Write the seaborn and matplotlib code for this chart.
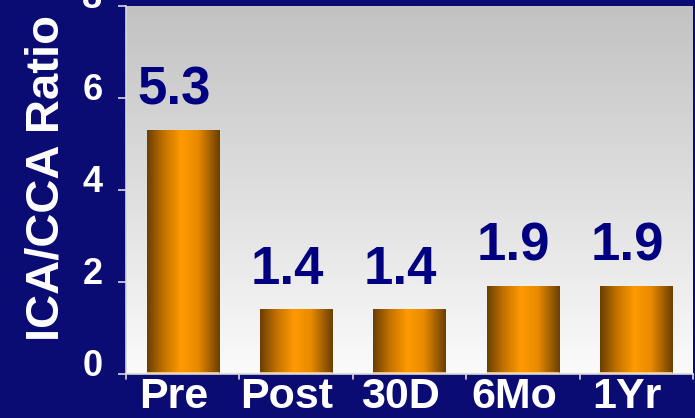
import numpy as np
import pandas as pd
import matplotlib
matplotlib.use("Agg")
import matplotlib.pyplot as plt
import matplotlib.transforms as mtransforms
from matplotlib.colors import LinearSegmentedColormap
import seaborn as sns

categories = ["Pre", "Post", "30D", "6Mo", "1Yr"]
ratios = [5.3, 1.4, 1.4, 1.9, 1.9]
value_labels = ["5.3", "1.4", "1.4", "1.9", "1.9"]
y_ticks = [0, 2, 4, 6, 8]

NAVY_BG = "#0b0b74"
NAVY_TXT = "#000080"

sns.set_theme(style="white")
plt.rcParams["font.family"] = ["Liberation Sans", "DejaVu Sans"]
plt.rcParams["font.weight"] = "bold"

df = pd.DataFrame({"period": categories, "ratio": ratios})

fig = plt.figure(figsize=(6.95, 4.18), dpi=100, facecolor=NAVY_BG)
ax = fig.add_axes([126 / 695, (418 - 374) / 418, (693 - 126) / 695, (374 - 6) / 418])

sns.barplot(data=df, x="period", y="ratio", ax=ax, width=0.635,
            color="#ff9900", edgecolor="none", errorbar=None)

ax.set_xlim(-0.5, 4.5)
ax.set_ylim(0, 8)

# gray-to-white vertical wash behind the bars
bg = np.linspace(0, 1, 256).reshape(-1, 1)
bg_cmap = LinearSegmentedColormap.from_list("wash", ["#fbfbfb", "#c2c2c2"])
ax.imshow(bg, cmap=bg_cmap, extent=[0, 1, 0, 1], transform=ax.transAxes,
          aspect="auto", origin="lower", zorder=0)

# cylindrical shading across each bar
bar_cmap = LinearSegmentedColormap.from_list(
    "cyl", [(0.0, "#6a3f00"), (0.22, "#c07000"), (0.47, "#ff9a00"),
            (0.7, "#e88a00"), (1.0, "#6a3f00")])
shade = np.linspace(0, 1, 256).reshape(1, -1)
for patch, label in zip(ax.patches, value_labels):
    x0 = patch.get_x()
    w = patch.get_width()
    h = patch.get_height()
    patch.set_visible(False)
    ax.imshow(shade, cmap=bar_cmap, extent=[x0, x0 + w, 0, h],
              aspect="auto", origin="lower", zorder=2)
    ax.plot([x0, x0 + w], [0.02, 0.02], color="#f5d9a8", lw=1.2, zorder=3)
    ax.text(x0 + w / 2 - 0.08, h + 0.56, label, ha="center", va="baseline",
            color=NAVY_TXT, fontsize=38, fontweight="bold", zorder=4)

ax.set_xlim(-0.5, 4.5)
ax.set_ylim(0, 8)
ax.set_yticks(y_ticks)
ax.set_yticklabels([str(t) for t in y_ticks])
ax.set_xticks(range(len(categories)))
ax.set_xticklabels(categories)
ax.tick_params(axis="x", length=0, pad=2, labelsize=31, labelcolor="white")
ax.tick_params(axis="y", length=6, width=1.2, color="#d8d8d8", pad=11,
               labelsize=26, labelcolor="white", left=True, direction="out")

# category names sit a little left of the bar centres,
# axis numbers a little above their ticks
x_shift = mtransforms.ScaledTranslation(-9 / 100, 0, fig.dpi_scale_trans)
y_shift = mtransforms.ScaledTranslation(0, 11 / 100, fig.dpi_scale_trans)
for lbl in ax.get_xticklabels():
    lbl.set_fontweight("bold")
    lbl.set_transform(lbl.get_transform() + x_shift)
for lbl in ax.get_yticklabels():
    lbl.set_fontweight("bold")
    lbl.set_transform(lbl.get_transform() + y_shift)

# small separators between categories on the baseline
for b in np.arange(-0.5, 5.0, 1.0):
    ax.plot([b, b], [0, -0.1], color="#d8d8d8", lw=1.2, clip_on=False, zorder=5)

for side in ["top", "right"]:
    ax.spines[side].set_visible(False)
ax.spines["left"].set_color("#d8d8d8")
ax.spines["left"].set_linewidth(1.2)
ax.spines["bottom"].set_color("#d8d8d8")
ax.spines["bottom"].set_linewidth(1.2)

ax.set_xlabel("")
ax.set_ylabel("ICA/CCA Ratio", color="white", fontsize=34, fontweight="bold")
ax.yaxis.set_label_coords(-0.102, 0.532)

fig.savefig("out.png", dpi=100, facecolor=NAVY_BG)
